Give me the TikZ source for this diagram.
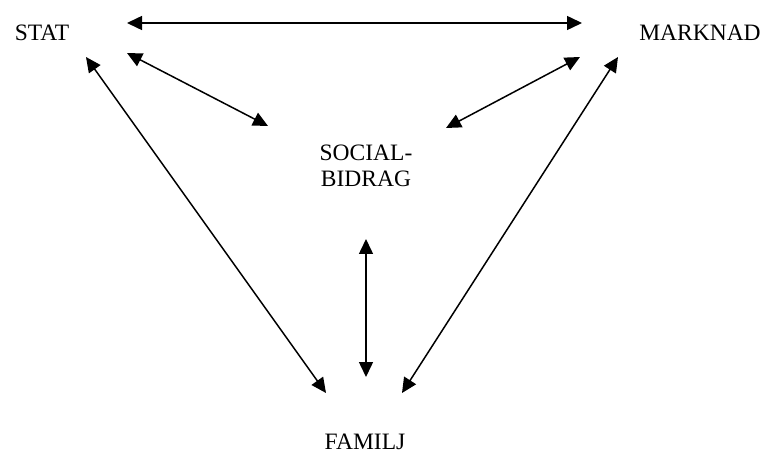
\documentclass[tikz,border=0pt]{standalone}
\usepackage{fontspec}
\setmainfont{Liberation Serif}
\usetikzlibrary{arrows.meta}
\tikzset{
  lbl/.style={inner sep=0pt, anchor=base, font=\fontsize{23.5}{26.5}\selectfont},
  link/.style={line width=1.5pt, {Triangle[length=15pt,width=14pt]}-{Triangle[length=15pt,width=14pt]}}
}
\begin{document}
\begin{tikzpicture}[x=1pt,y=-1pt]
\useasboundingbox (0,0) rectangle (768,454);
\node[lbl] (stat) at (42,41) {STAT};
\node[lbl] (marknad) at (700,41) {MARKNAD};
\node[lbl, align=center] (social) at (366,187) {SOCIAL-\\BIDRAG};
\node[lbl] (familj) at (365,449) {FAMILJ};
% arrow end points
\coordinate (h1) at (127,23);
\coordinate (h2) at (582,23);
\coordinate (s1) at (127,53);
\coordinate (s2) at (268,126);
\coordinate (f1) at (86,57);
\coordinate (f2) at (326,393);
\coordinate (m1) at (580,57);
\coordinate (m2) at (446,128);
\coordinate (g1) at (618,57);
\coordinate (g2) at (402,393);
\coordinate (v1) at (366,239);
\coordinate (v2) at (366,377);
\draw[link] (h1) -- (h2);
\draw[link] (s1) -- (s2);
\draw[link] (f1) -- (f2);
\draw[link] (m1) -- (m2);
\draw[link] (g1) -- (g2);
\draw[link] (v1) -- (v2);
\end{tikzpicture}
\end{document}
